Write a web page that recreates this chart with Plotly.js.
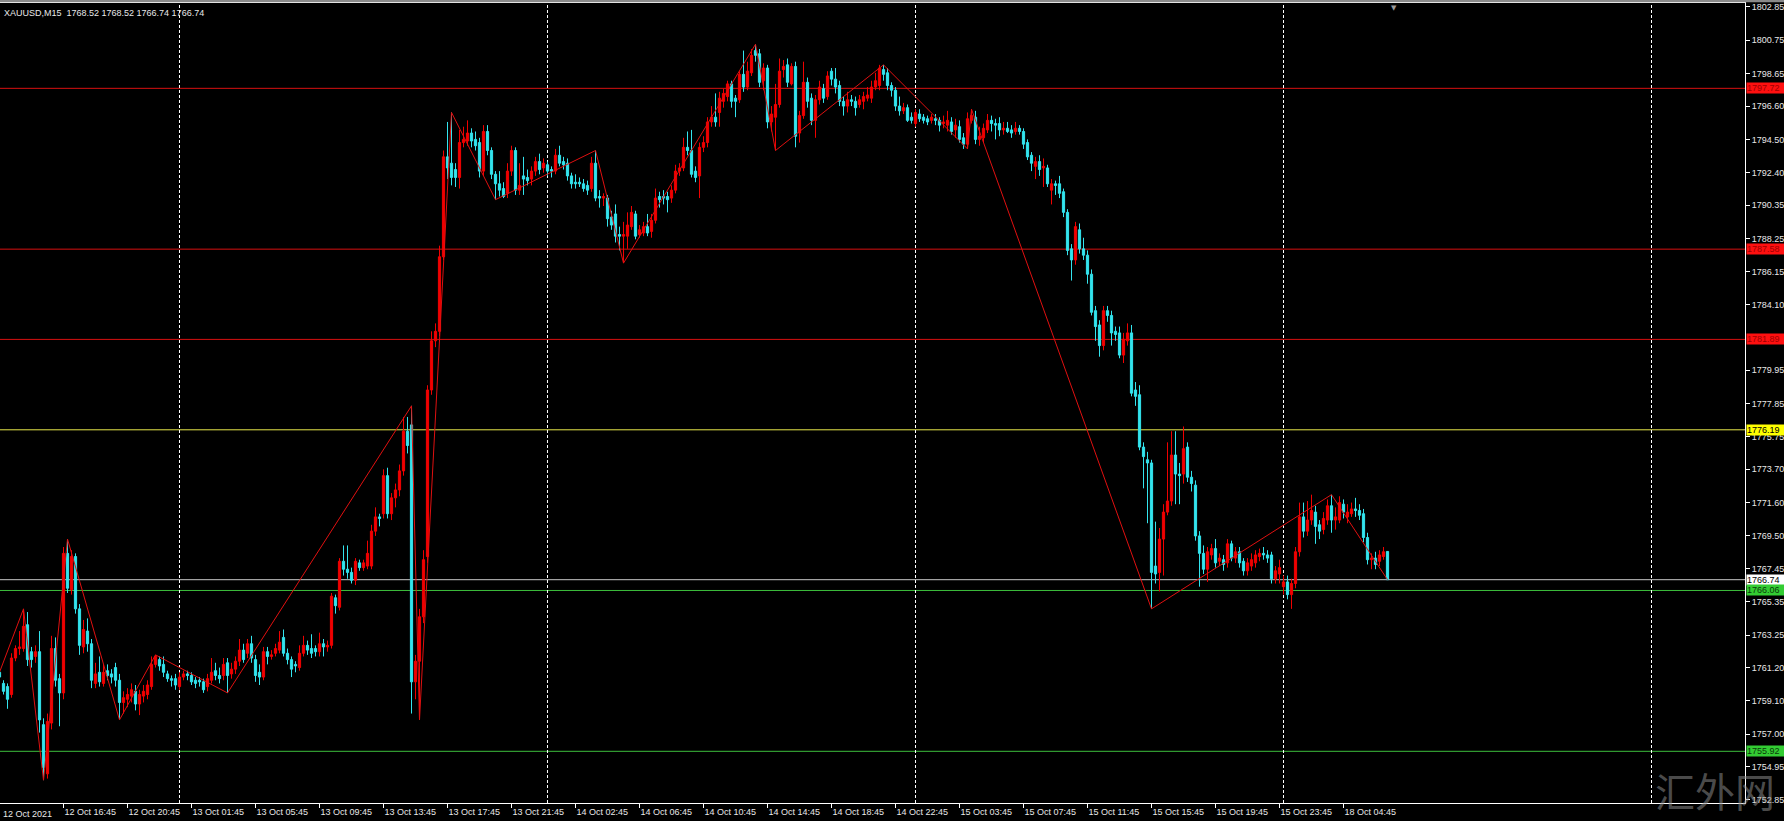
<!DOCTYPE html>
<html><head><meta charset="utf-8">
<script src="https://cdn.plot.ly/plotly-3.0.1.min.js"></script>
<style>html,body{margin:0;padding:0;background:#000;overflow:hidden}#chart{width:1784px;height:821px}</style>
</head><body><div id="chart"></div>
<script>
const headerText = 'XAUUSD,M15\u00a0 1768.52 1768.52 1766.74 1766.74';
const openP = [
1760.9,1760.2,1760.0,1759.5,1761.8,1762.4,1762.4,1763.9,1762.2,1761.9,
1762.2,1757.6,1754.5,1757.7,1762.4,1760.5,1759.6,1768.4,1766.1,1768.2,
1764.9,1762.5,1763.5,1762.7,1760.2,1760.9,1760.2,1761.0,1760.8,1761.2,
1760.4,1759.0,1759.2,1759.4,1759.7,1758.9,1759.4,1759.5,1760.0,1761.4,
1761.7,1761.4,1760.8,1760.5,1760.5,1760.0,1760.6,1760.8,1760.7,1760.4,
1760.4,1760.3,1760.0,1760.4,1761.0,1760.7,1760.7,1761.5,1760.8,1761.1,
1761.6,1762.3,1762.1,1762.7,1761.7,1760.9,1760.6,1762.2,1761.9,1762.1,
1762.3,1763.1,1762.1,1761.7,1761.4,1761.2,1762.1,1762.6,1762.4,1762.4,
1762.2,1762.7,1762.5,1762.6,1765.6,1765.0,1767.9,1767.4,1767.2,1766.7,
1767.8,1767.5,1767.6,1767.6,1769.8,1770.7,1770.9,1773.3,1770.9,1771.9,
1772.4,1773.6,1776.1,1776.5,1760.3,1761.6,1764.4,1768.2,1778.7,1781.8,
1782.4,1787.1,1793.4,1793.0,1792.6,1792.1,1794.3,1794.4,1794.9,1794.5,
1794.3,1792.5,1795.0,1793.8,1792.3,1791.7,1791.4,1791.1,1792.5,1793.8,
1791.3,1792.2,1792.1,1792.0,1792.5,1793.1,1792.7,1792.9,1792.6,1792.5,
1793.5,1793.1,1793.0,1792.2,1791.8,1791.8,1791.7,1791.6,1791.4,1793.0,
1790.9,1790.8,1790.8,1789.6,1789.8,1788.5,1788.4,1788.4,1789.0,1789.8,
1788.5,1788.6,1789.0,1788.7,1789.4,1790.9,1790.9,1790.9,1790.8,1791.3,
1792.5,1792.7,1794.0,1793.8,1792.5,1792.2,1794.0,1794.3,1795.6,1795.9,
1796.2,1796.9,1797.2,1798.0,1797.1,1797.0,1798.6,1797.8,1798.7,1800.1,
1799.9,1798.2,1799.0,1795.6,1795.9,1796.7,1798.9,1799.2,1798.0,1799.1,
1794.9,1796.0,1798.1,1797.1,1795.7,1797.0,1797.7,1797.2,1798.8,1798.3,
1797.9,1796.9,1796.6,1797.0,1796.9,1796.7,1796.9,1797.1,1797.1,1797.8,
1797.9,1798.9,1798.7,1797.9,1797.6,1796.6,1796.3,1796.5,1795.9,1795.5,
1796.1,1795.9,1795.8,1795.7,1795.8,1795.7,1795.5,1795.4,1795.6,1795.1,
1795.3,1794.6,1794.2,1795.7,1795.9,1794.5,1794.6,1795.1,1795.7,1795.5,
1795.5,1795.1,1795.2,1795.1,1795.0,1795.2,1795.0,1794.3,1793.5,1792.8,
1793.1,1792.7,1792.7,1791.3,1791.7,1791.7,1791.2,1789.9,1787.6,1786.9,
1788.8,1787.6,1787.2,1786.0,1783.7,1782.8,1781.5,1783.7,1783.4,1782.4,
1782.3,1780.9,1781.8,1782.3,1778.7,1778.4,1775.1,1774.3,1774.1,1767.6,
1767.2,1769.3,1771.0,1771.7,1774.6,1773.4,1773.4,1775.1,1773.2,1772.7,
1769.5,1768.4,1767.4,1768.3,1768.7,1767.9,1768.0,1767.8,1769.0,1768.1,
1768.5,1767.9,1767.3,1767.6,1767.8,1768.2,1768.4,1768.3,1768.3,1766.8,
1767.1,1766.3,1766.6,1765.8,1766.5,1768.5,1770.7,1769.8,1770.5,1771.0,
1770.2,1769.9,1770.5,1771.4,1770.5,1770.5,1771.5,1770.7,1770.9,1771.2,
1771.1,1770.9,1769.4,1768.0,1768.1,1767.9,1768.2,1768.52];
const highP = [
1761.2,1760.4,1760.2,1762.1,1762.6,1763.5,1764.9,1764.7,1762.5,1762.6,
1763.5,1758.0,1758.3,1763.2,1763.1,1760.8,1768.8,1769.3,1768.6,1768.4,
1765.2,1764.2,1764.3,1763.0,1761.5,1761.9,1761.4,1761.4,1761.1,1761.5,
1760.8,1759.7,1759.9,1760.2,1760.1,1759.8,1760.1,1760.4,1761.9,1762.0,
1761.9,1761.9,1761.0,1760.7,1760.8,1760.9,1761.0,1761.0,1760.9,1760.6,
1760.6,1760.5,1760.8,1761.8,1761.5,1761.2,1761.8,1761.8,1761.5,1761.9,
1763.0,1762.7,1763.0,1763.2,1762.0,1761.4,1762.5,1762.5,1762.3,1762.7,
1763.5,1763.6,1762.4,1761.9,1761.6,1762.6,1763.2,1762.9,1763.3,1762.6,
1763.4,1763.0,1762.9,1765.9,1765.8,1768.1,1768.9,1768.9,1767.5,1768.1,
1768.0,1768.0,1769.2,1770.2,1771.3,1770.9,1773.7,1773.8,1772.2,1772.8,
1774.0,1777.0,1777.0,1777.7,1762.0,1764.9,1768.6,1779.0,1782.4,1782.9,
1787.8,1793.8,1795.6,1796.2,1793.0,1795.1,1795.3,1795.7,1795.2,1795.0,
1794.6,1795.4,1795.4,1794.0,1792.5,1792.5,1791.8,1793.0,1794.1,1794.0,
1793.0,1793.4,1792.6,1792.8,1793.4,1793.6,1793.3,1793.1,1792.8,1793.9,
1794.1,1793.4,1793.3,1792.4,1792.3,1792.1,1792.0,1791.9,1793.4,1793.8,
1791.3,1791.1,1791.0,1790.0,1790.4,1789.0,1789.3,1789.9,1790.3,1790.0,
1789.1,1789.3,1789.8,1789.8,1791.4,1791.2,1791.3,1791.2,1791.6,1792.9,
1793.0,1794.6,1795.0,1795.1,1792.8,1794.3,1794.7,1795.9,1796.6,1797.4,
1797.5,1797.7,1798.2,1798.2,1797.3,1798.8,1800.1,1799.4,1800.2,1800.5,
1800.2,1799.3,1799.2,1796.6,1798.0,1799.6,1799.5,1799.6,1799.3,1799.4,
1796.3,1799.4,1798.4,1797.4,1797.3,1798.2,1798.0,1798.8,1799.0,1799.0,
1798.2,1797.2,1797.5,1797.3,1797.2,1797.3,1797.5,1797.8,1798.2,1798.7,
1799.2,1799.2,1799.0,1798.1,1797.8,1797.2,1796.8,1796.7,1796.2,1796.4,
1796.4,1796.1,1796.0,1796.1,1796.1,1795.9,1796.0,1796.3,1795.9,1795.8,
1795.7,1794.9,1796.2,1796.4,1796.3,1795.3,1795.5,1796.1,1796.0,1795.8,
1795.9,1795.6,1795.6,1795.4,1795.6,1795.4,1795.2,1794.5,1793.7,1793.4,
1793.5,1793.3,1792.9,1792.0,1791.9,1792.2,1791.4,1790.1,1787.9,1789.3,
1789.2,1788.3,1787.5,1786.3,1784.0,1783.1,1784.0,1784.0,1783.7,1782.7,
1782.7,1782.3,1782.9,1782.8,1779.2,1779.0,1775.4,1774.8,1774.3,1770.4,
1770.0,1771.5,1775.4,1776.1,1776.1,1774.1,1776.4,1775.4,1773.6,1773.0,
1769.8,1768.9,1768.8,1769.0,1769.3,1768.4,1768.3,1769.3,1769.2,1768.8,
1768.8,1768.1,1768.1,1768.4,1768.6,1768.7,1768.8,1768.6,1768.5,1767.6,
1768.0,1767.0,1767.0,1766.8,1768.8,1771.6,1771.6,1771.7,1772.1,1771.4,
1770.5,1771.0,1771.8,1772.1,1771.3,1772.0,1771.8,1771.5,1771.6,1771.9,
1771.5,1771.2,1769.7,1768.4,1768.5,1768.6,1768.8,1768.52];
const lowP = [
1760.3,1759.5,1758.6,1759.3,1761.6,1762.0,1762.2,1761.3,1761.2,1761.5,
1757.1,1754.1,1754.2,1757.3,1760.0,1757.5,1759.2,1765.9,1765.8,1764.6,
1762.0,1762.1,1762.2,1759.9,1759.9,1760.0,1760.0,1760.4,1760.2,1760.0,
1757.9,1758.3,1758.7,1759.0,1758.5,1758.2,1759.0,1759.2,1759.8,1761.2,
1761.0,1760.6,1760.3,1760.0,1759.8,1759.8,1760.4,1760.4,1760.1,1759.9,
1760.0,1759.6,1759.7,1760.2,1760.4,1760.2,1760.4,1759.6,1760.5,1760.8,
1761.3,1761.5,1761.8,1761.5,1760.3,1760.1,1760.4,1761.4,1761.7,1761.9,
1762.1,1761.9,1761.4,1760.6,1760.9,1761.0,1761.9,1762.0,1761.8,1761.9,
1761.9,1761.9,1762.2,1762.4,1764.6,1764.8,1767.0,1766.8,1766.5,1766.4,
1767.3,1767.3,1767.4,1767.4,1769.5,1770.1,1770.6,1770.6,1770.5,1771.3,
1772.0,1773.3,1774.7,1758.3,1759.2,1757.9,1764.0,1767.8,1778.4,1781.4,
1782.1,1786.9,1792.0,1791.6,1791.5,1791.4,1794.0,1794.1,1794.0,1793.8,
1792.1,1792.2,1793.5,1792.0,1790.7,1790.9,1790.8,1790.8,1792.2,1791.0,
1791.0,1791.0,1791.6,1791.6,1792.2,1792.3,1792.4,1792.2,1792.1,1792.3,
1792.8,1792.6,1791.9,1791.4,1791.4,1791.5,1791.2,1791.0,1791.2,1790.6,
1790.2,1790.3,1789.0,1788.8,1788.0,1787.5,1786.7,1787.6,1788.8,1788.2,
1788.3,1788.4,1788.4,1788.3,1789.2,1790.2,1790.4,1789.9,1790.5,1791.1,
1792.2,1792.5,1793.5,1792.1,1791.8,1790.8,1793.7,1794.0,1795.3,1795.3,
1795.3,1796.5,1796.9,1796.5,1795.9,1796.8,1797.5,1797.6,1798.5,1799.4,
1797.8,1797.6,1795.2,1795.0,1793.8,1796.5,1798.4,1797.8,1797.9,1794.0,
1794.3,1795.8,1796.5,1795.4,1794.6,1796.7,1796.8,1797.0,1797.9,1797.4,
1796.6,1796.0,1796.2,1796.6,1796.0,1796.5,1796.4,1796.9,1796.8,1797.6,
1797.6,1798.2,1797.6,1797.2,1796.3,1796.0,1796.1,1795.6,1795.5,1795.3,
1795.6,1795.5,1795.4,1795.5,1795.4,1795.0,1795.2,1795.0,1794.8,1794.6,
1794.3,1793.9,1793.9,1795.5,1794.2,1794.1,1794.3,1794.9,1795.0,1794.5,
1794.7,1794.8,1794.9,1794.6,1794.8,1794.8,1793.9,1793.2,1792.5,1792.0,
1792.2,1791.5,1791.5,1790.4,1791.0,1790.8,1789.6,1787.2,1785.6,1786.6,
1787.3,1786.9,1785.4,1783.4,1781.8,1780.8,1781.2,1783.0,1781.5,1781.8,
1780.7,1780.4,1781.5,1778.3,1777.7,1774.9,1772.5,1770.3,1764.9,1766.5,
1766.0,1767.0,1770.8,1771.4,1771.5,1771.5,1772.8,1772.9,1772.3,1769.2,
1766.3,1767.1,1766.6,1768.0,1767.5,1767.6,1767.3,1767.5,1767.9,1767.8,
1767.5,1767.0,1767.0,1767.3,1767.5,1767.9,1768.0,1767.8,1766.5,1766.5,
1766.5,1765.8,1765.5,1764.9,1766.2,1768.2,1769.4,1769.5,1770.2,1769.0,
1769.3,1769.6,1770.2,1769.7,1769.9,1770.3,1770.6,1770.3,1770.7,1770.7,
1770.5,1769.1,1767.7,1767.4,1767.4,1767.6,1768.0,1766.74];
const closeP = [
1760.6,1759.7,1759.2,1761.8,1762.4,1762.5,1763.8,1761.7,1761.7,1762.2,
1757.9,1754.9,1757.8,1762.4,1760.4,1759.6,1768.4,1766.2,1768.2,1764.9,
1762.6,1763.6,1762.7,1760.4,1760.8,1760.3,1760.9,1760.7,1760.6,1760.4,
1759.0,1759.3,1759.5,1759.8,1758.9,1759.5,1759.7,1760.1,1761.4,1761.9,
1761.3,1760.9,1760.5,1760.4,1760.1,1760.6,1760.8,1760.7,1760.3,1760.2,
1760.3,1759.8,1760.5,1760.9,1760.7,1760.5,1761.4,1760.7,1761.1,1761.6,
1762.3,1761.7,1762.7,1761.8,1760.7,1760.6,1762.2,1761.9,1762.0,1762.4,
1762.8,1762.1,1761.7,1761.1,1761.3,1762.1,1762.6,1762.3,1762.1,1762.2,
1762.7,1762.5,1762.6,1765.7,1765.1,1767.9,1767.4,1767.2,1766.7,1767.9,
1767.5,1767.8,1768.4,1769.8,1770.7,1770.6,1773.3,1770.9,1771.9,1772.4,
1773.6,1776.1,1775.2,1760.3,1761.6,1764.4,1768.0,1778.7,1781.8,1782.4,
1787.1,1793.4,1792.7,1792.1,1792.1,1794.3,1794.5,1794.9,1794.4,1794.1,
1792.5,1795.0,1793.8,1792.3,1791.7,1791.3,1790.9,1792.5,1793.8,1791.3,
1791.6,1792.0,1791.9,1792.5,1793.1,1792.6,1793.0,1792.5,1792.5,1793.5,
1793.0,1792.9,1792.2,1791.7,1791.7,1791.7,1791.4,1791.3,1793.0,1790.8,
1790.8,1790.9,1789.5,1789.1,1788.4,1788.4,1788.5,1789.1,1789.9,1788.4,
1788.8,1789.0,1788.6,1789.4,1790.8,1790.7,1790.8,1790.7,1791.3,1792.5,
1792.7,1794.0,1793.8,1792.3,1792.1,1794.0,1794.3,1795.6,1795.9,1795.6,
1797.1,1797.4,1798.0,1796.9,1796.9,1798.6,1797.8,1798.8,1799.8,1799.8,
1798.1,1799.0,1795.6,1796.1,1796.7,1798.8,1799.1,1798.1,1799.1,1794.7,
1796.0,1798.1,1796.9,1795.7,1797.0,1797.8,1797.1,1798.5,1798.3,1797.8,
1796.9,1796.6,1797.0,1796.9,1796.5,1797.0,1797.2,1797.3,1797.8,1798.2,
1799.0,1798.6,1797.9,1797.6,1796.6,1796.3,1796.5,1795.7,1795.7,1796.2,
1795.8,1795.7,1795.6,1795.9,1795.7,1795.4,1795.6,1795.7,1795.0,1795.4,
1794.5,1794.2,1795.8,1796.0,1794.5,1794.7,1795.2,1795.7,1795.5,1795.4,
1795.1,1795.2,1795.0,1794.9,1795.2,1795.0,1794.2,1793.4,1793.0,1793.1,
1792.6,1792.8,1791.7,1791.7,1791.6,1791.1,1789.9,1787.5,1786.9,1789.0,
1787.6,1787.2,1786.0,1783.6,1782.7,1781.5,1783.7,1783.4,1782.3,1782.2,
1780.9,1781.9,1782.3,1778.5,1778.3,1775.1,1774.5,1774.1,1767.2,1767.1,
1769.3,1771.0,1771.7,1774.6,1773.4,1773.3,1775.0,1773.2,1772.8,1769.5,
1768.4,1767.4,1768.5,1768.7,1767.8,1768.1,1767.7,1769.0,1768.1,1768.5,
1767.8,1767.3,1767.8,1768.0,1768.3,1768.4,1768.3,1768.1,1766.8,1767.3,
1767.5,1766.6,1765.8,1766.5,1768.5,1770.7,1769.8,1770.5,1771.1,1770.1,
1769.8,1770.6,1771.4,1770.5,1770.7,1771.6,1771.0,1771.0,1771.2,1771.1,
1770.8,1769.4,1768.0,1768.1,1767.7,1768.3,1768.5,1766.74];

const firstLabel = '12 Oct 2021';
const xTickBars = [16,32,48,64,80,96,112,128,144,160,176,192,208,224,240,256,272,288,304,320,336];
const xTickLabels = ['12 Oct 16:45','12 Oct 20:45','13 Oct 01:45','13 Oct 05:45','13 Oct 09:45',
  '13 Oct 13:45','13 Oct 17:45','13 Oct 21:45','14 Oct 02:45','14 Oct 06:45','14 Oct 10:45',
  '14 Oct 14:45','14 Oct 18:45','14 Oct 22:45','15 Oct 03:45','15 Oct 07:45','15 Oct 11:45',
  '15 Oct 15:45','15 Oct 19:45','15 Oct 23:45','18 Oct 04:45'];
const yTickText = ['1802.85','1800.75','1798.65','1796.60','1794.50','1792.40','1790.35','1788.25',
  '1786.15','1784.10','1779.95','1777.85','1775.75','1773.70','1771.60','1769.50','1767.45',
  '1765.35','1763.25','1761.20','1759.10','1757.00','1754.95','1752.85'];
const zigzagBars = [0,6,11,17,30,39,57,103,105,113,124,149,156,189,194,221,242,243,288,333,347];
const zigzagPrices = [1760.9,1764.9,1754.1,1769.3,1757.9,1762.0,1759.6,1777.7,1757.9,1796.2,1790.7,
  1793.8,1786.7,1800.5,1793.8,1799.2,1793.9,1796.4,1764.9,1772.1,1766.74];
const levelPrices = [1797.72,1787.58,1781.89,1776.19,1766.74,1766.06,1755.92];
const levelColors = ['#d81010','#d81010','#d81010','#e8e84a','#c8c8c8','#3cbf3c','#3cbf3c'];
const tagBg = ['#ff1010','#ff1010','#ff1010','#ffff00','#ffffff','#33cc33','#33cc33'];
const tagFg = ['#a00000','#a00000','#a00000','#000000','#000000','#0a3a0a','#0a3a0a'];
const gridBars = [45,137,229,321,413];
const shiftMarkBar = 348.6;
const watermark = '汇外网';

const bars = openP.map((_, i) => i);
const upColor = '#f00000', downColor = '#33e4ee';
const font = 'Liberation Sans, Arial, sans-serif';

const traces = [
  {
    type: 'candlestick', x: bars, open: openP, high: highP, low: lowP, close: closeP,
    increasing: {line: {color: upColor, width: 1}, fillcolor: upColor},
    decreasing: {line: {color: downColor, width: 1}, fillcolor: downColor},
    whiskerwidth: 0, hoverinfo: 'skip', showlegend: false
  },
  {
    type: 'scatter', mode: 'lines', x: zigzagBars, y: zigzagPrices,
    line: {color: '#e01010', width: 1}, hoverinfo: 'skip', showlegend: false
  }
];

const shapes = [];
levelPrices.forEach((p, i) => shapes.push({
  type: 'line', xref: 'paper', x0: 0, x1: 1, yref: 'y', y0: p, y1: p,
  line: {color: levelColors[i], width: 1}, layer: 'below'
}));
gridBars.forEach(b => shapes.push({
  type: 'line', xref: 'x', x0: b, x1: b, yref: 'paper', y0: 0, y1: 1,
  line: {color: '#ffffff', width: 1, dash: '3px,2px'}, layer: 'below'
}));
shapes.push({type: 'rect', xref: 'paper', yref: 'paper', x0: -0.01, x1: 1.05, y0: 1.001, y1: 1.006,
  line: {width: 0}, fillcolor: '#8a8a8a', layer: 'above'});

const annotations = [];
levelPrices.forEach((p, i) => annotations.push({
  xref: 'paper', x: 1, xanchor: 'left', xshift: 1, yref: 'y', y: p, yanchor: 'middle',
  text: p.toFixed(2), showarrow: false, align: 'left', bgcolor: tagBg[i], borderpad: 0,
  width: 40, height: 10, font: {family: font, size: 9, color: tagFg[i]}
}));
annotations.push({xref: 'paper', x: 0, xanchor: 'left', xshift: 2, yref: 'paper', y: 1, yanchor: 'top', yshift: -3,
  text: headerText, showarrow: false, font: {family: font, size: 9, color: '#e8e8e8'}});
annotations.push({xref: 'paper', x: 0, xanchor: 'left', xshift: 1, yref: 'paper', y: 0, yanchor: 'top', yshift: -4,
  text: firstLabel, showarrow: false, font: {family: font, size: 9, color: '#e8e8e8'}});
annotations.push({xref: 'x', x: shiftMarkBar, xanchor: 'center', yref: 'paper', y: 1, yanchor: 'top', yshift: 1,
  text: '▼', showarrow: false, font: {family: 'DejaVu Sans', size: 7, color: '#9a9a9a'}});
annotations.push({xref: 'paper', x: 1, xanchor: 'right', xshift: 31, yref: 'paper', y: 0, yanchor: 'middle', yshift: 13,
  text: watermark, showarrow: false, borderpad: 0,
  font: {family: 'Noto Sans CJK SC', size: 40, color: 'rgba(140,140,140,0.55)'}});

const layout = {
  width: 1784, height: 821,
  margin: {l: 0, r: 39, t: 3, b: 18, pad: 0},
  paper_bgcolor: '#000000', plot_bgcolor: 'rgba(0,0,0,0)',
  boxgap: 0, boxgroupgap: 0.45,
  hovermode: false, dragmode: false, showlegend: false,
  xaxis: {
    type: 'linear', range: [0.125, 436.375], autorange: false,
    tickmode: 'array', tickvals: xTickBars, ticktext: xTickLabels,
    ticks: 'outside', ticklen: 4, tickcolor: '#ffffff', tickwidth: 1,
    ticklabelposition: 'outside right', ticklabeloverflow: 'allow', tickangle: 0,
    tickfont: {family: font, size: 9, color: '#e8e8e8'},
    showline: true, linecolor: '#ffffff', linewidth: 1, mirror: true,
    showgrid: false, zeroline: false, automargin: false,
    rangeslider: {visible: false}, fixedrange: true
  },
  yaxis: {
    side: 'right', range: [1752.66, 1803.10], autorange: false,
    tickmode: 'array', tickvals: yTickText.map(Number), ticktext: yTickText,
    ticks: 'outside', ticklen: 4, tickcolor: '#ffffff', tickwidth: 1,
    ticklabeloverflow: 'allow',
    tickfont: {family: font, size: 9, color: '#e8e8e8'},
    showline: true, linecolor: '#ffffff', linewidth: 1,
    showgrid: false, zeroline: false, automargin: false, fixedrange: true
  },
  shapes: shapes,
  annotations: annotations
};

Plotly.newPlot('chart', traces, layout, {displayModeBar: false, staticPlot: true});
</script>
</body></html>
